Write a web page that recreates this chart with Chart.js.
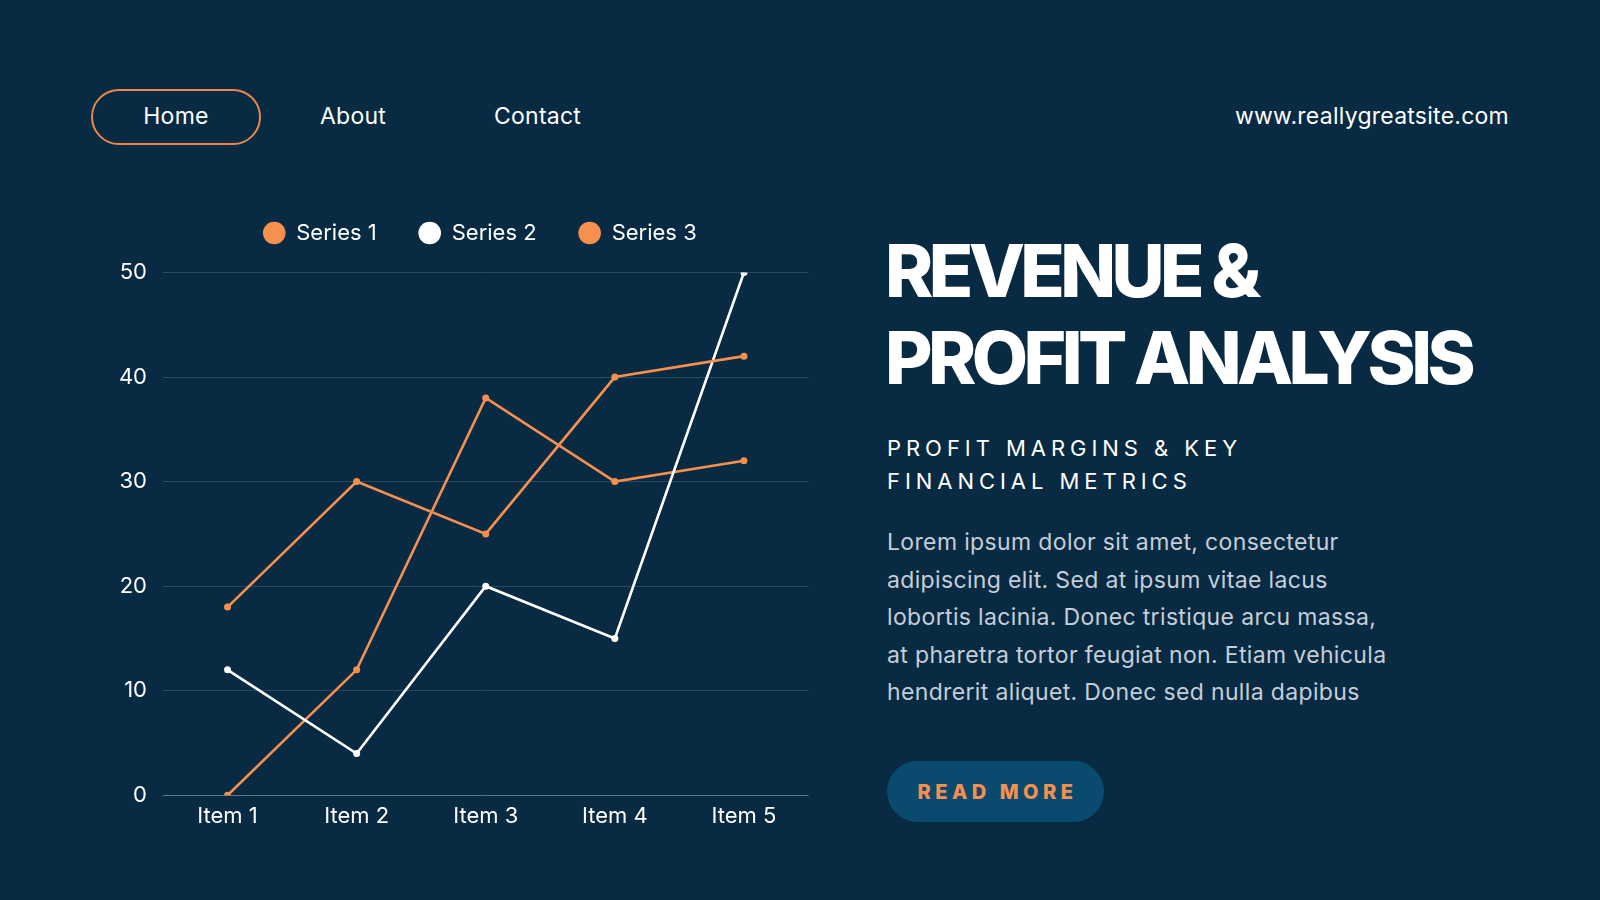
<!DOCTYPE html>
<html>
<head>
<meta charset="utf-8">
<script src="https://cdn.jsdelivr.net/npm/chart.js@4.4.1/dist/chart.umd.min.js"></script>
<style>
  html, body { margin: 0; padding: 0; }
  body {
    width: 1600px; height: 900px; overflow: hidden;
    background: #082a42; position: relative;
    font-family: Inter, "Open Sans", sans-serif; color: #fff;
  }
  .nav { position: absolute; top: 101px; height: 31px; line-height: 31px; font-size: 23px; letter-spacing: 0.25px; }
  #home {
    left: 91px; top: 89px; width: 166px; height: 52px; line-height: 51px;
    border: 2px solid #e8894a; border-radius: 28px; text-align: center;
  }
  #site { right: 91px; }
  #chartBox { position: absolute; left: 100px; top: 180px; width: 760px; height: 660px; }
  h1 {
    position: absolute; left: 885px; top: 228px; margin: 0;
    font-size: 73px; line-height: 86.7px; font-weight: 800; letter-spacing: -4.6px;
  }
  #sub {
    position: absolute; left: 887px; top: 432px; margin: 0;
    font-size: 22px; line-height: 33px; font-weight: 400; letter-spacing: 4.95px;
  }
  #body {
    position: absolute; left: 887px; top: 524px; margin: 0;
    font-size: 23px; line-height: 37.5px; letter-spacing: 0.35px; color: #c5ced8;
  }
  #btn {
    position: absolute; left: 887px; top: 761px; width: 217px; height: 61px;
    border-radius: 31px; background: #0b4a6f; color: #f6904e;
    font-size: 20px; font-weight: 800; letter-spacing: 4.5px;
    display: flex; align-items: center; justify-content: center; padding-left: 4px; box-sizing: border-box;
  }
</style>
</head>
<body>
  <div class="nav" id="home">Home</div>
  <div class="nav" style="left:320px">About</div>
  <div class="nav" style="left:494px">Contact</div>
  <div class="nav" id="site">www.reallygreatsite.com</div>

  <div id="chartBox"><canvas id="lineChart"></canvas></div>

  <h1>REVENUE &amp;<br>PROFIT ANALYSIS</h1>
  <div id="sub">PROFIT MARGINS &amp; KEY<br>FINANCIAL METRICS</div>
  <div id="body">Lorem ipsum dolor sit amet, consectetur<br>adipiscing elit. Sed at ipsum vitae lacus<br>lobortis lacinia. Donec tristique arcu massa,<br>at pharetra tortor feugiat non. Etiam vehicula<br>hendrerit aliquet. Donec sed nulla dapibus</div>
  <div id="btn">READ MORE</div>

<script>
// datos
const categories = ['Item 1', 'Item 2', 'Item 3', 'Item 4', 'Item 5'];
const seriesNames = ['Series 1', 'Series 2', 'Series 3'];
const series1 = [18, 30, 25, 40, 42];
const series2 = [12, 4, 20, 15, 50];
const series3 = [0, 12, 38, 30, 32];
const yMin = 0;
const yMax = 50;
const yStep = 10;

const orange = '#f6904e';
const white = '#ffffff';

function serie(label, data, color) {
    return {
        label: label,
        data: data,
        borderColor: color,
        backgroundColor: color,
        borderWidth: 2.6,
        pointRadius: 3.5,
        pointBorderWidth: 0,
        pointBackgroundColor: color,
        tension: 0
    };
}

// separa la leyenda del area del grafico
const legendGap = {
    id: 'legendGap',
    beforeInit(chart) {
        const fit = chart.legend.fit;
        chart.legend.fit = function () {
            fit.call(this);
            this.height += 18.5;
        };
    }
};

const ctx = document.getElementById('lineChart');
const chart = new Chart(ctx, {
    type: 'line',
    data: {
        labels: categories,
        datasets: [
            serie(seriesNames[0], series1, orange),
            serie(seriesNames[1], series2, white),
            serie(seriesNames[2], series3, orange)
        ]
    },
    options: {
        responsive: true,
        maintainAspectRatio: false,
        animation: false,
        layout: { padding: { left: 0, right: 0, top: 0, bottom: 10.7 } },
        plugins: {
            tooltip: { enabled: false },
            legend: {
                position: 'top',
                labels: {
                    usePointStyle: true,
                    pointStyle: 'circle',
                    boxWidth: 22,
                    boxHeight: 16,
                    padding: 42,
                    color: '#ffffff',
                    font: { family: 'Inter', size: 22 }
                }
            }
        },
        scales: {
            x: {
                offset: true,
                grid: { display: false, drawTicks: false },
                border: { display: false },
                ticks: { color: '#ffffff', padding: 7.5, font: { family: 'Inter', size: 22 } },
                afterFit: (scale) => { scale.height = 34; }
            },
            y: {
                min: yMin,
                max: yMax,
                ticks: { stepSize: yStep, color: '#ffffff', padding: 16, font: { family: 'Inter', size: 22 } },
                grid: {
                    drawTicks: false,
                    color: (c) => (c.tick && c.tick.value === 0 ? '#5f7689' : '#284961'),
                    lineWidth: 1
                },
                border: { display: false },
                afterFit: (scale) => { scale.width = 63; }
            },
            // eje vacio a la derecha, solo para dejar margen
            yRight: {
                axis: 'y',
                position: 'right',
                min: yMin,
                max: yMax,
                grid: { display: false, drawTicks: false },
                border: { display: false },
                ticks: { display: false },
                afterFit: (scale) => { scale.width = 51.5; }
            }
        }
    },
    plugins: [legendGap]
});
</script>
</body>
</html>
